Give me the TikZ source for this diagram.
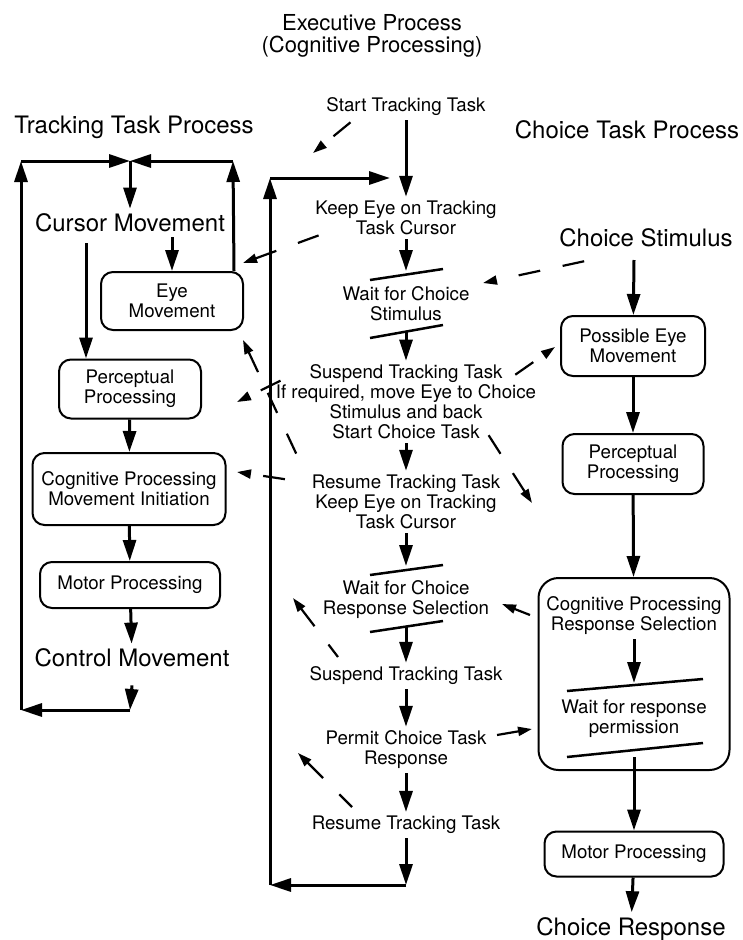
\documentclass[tikz,border=0pt]{standalone}
\usepackage{fontspec}
\setmainfont{TeX Gyre Heros}
\usetikzlibrary{arrows.meta}

\begin{document}
\begin{tikzpicture}[x=1pt,y=-1pt,
  lbl/.style={align=center,inner sep=4pt,font=\fontsize{18.7}{20}\selectfont},
  head/.style={inner sep=5pt,font=\fontsize{24}{26}\selectfont},
  box/.style={lbl,draw,line width=2pt,rounded corners=12pt,inner sep=0pt},
  arr/.style={line width=3pt,-{Triangle[length=21pt,width=13pt]}},
  dsh/.style={line width=2.2pt,dash pattern=on 22pt off 23pt,{Triangle[length=14pt,width=9pt]}-},
  gapfirst/.style={dash phase=32pt},
  bar/.style={line width=2.5pt}]
\useasboundingbox (0,0) rectangle (743,940);

% headings
\node[head,align=center,font=\fontsize{22}{22}\selectfont] (exec) at (372,36) {Executive Process\\(Cognitive Processing)};
\node[head] (ttp) at (134,127) {Tracking Task Process};
\node[head] (ctp) at (627,130) {Choice Task Process};

% tracking task
\node[head] (cm) at (130,223) {Cursor Movement};
\node[box,minimum width=142pt,minimum height=58pt] (eye) at (172,301) {Eye\\Movement};
\node[box,minimum width=142pt,minimum height=59pt] (pp1) at (130,389) {Perceptual\\Processing};
\node[box,minimum width=193pt,minimum height=72pt] (cpmi) at (129,489) {Cognitive Processing\\Movement Initiation};
\node[box,minimum width=180pt,minimum height=46pt] (mp1) at (130,585) {Motor Processing};
\node[head] (ctl) at (132,658) {Control Movement};

% executive process
\node[lbl] (stt) at (406,107) {Start Tracking Task};
\node[lbl] (ke1) at (406,218) {Keep Eye on Tracking\\Task Cursor};
\node[lbl] (wcs) at (406,304) {Wait for Choice\\Stimulus};
\node[lbl] (sus) at (406,402) {Suspend Tracking Task\\If required, move Eye to Choice\\Stimulus and back\\Start Choice Task};
\node[lbl] (res) at (406,502) {Resume Tracking Task\\Keep Eye on Tracking\\Task Cursor};
\node[lbl] (wcr) at (406,600) {Wait for Choice\\Response Selection};
\node[lbl] (sus2) at (406,676) {Suspend Tracking Task};
\node[lbl] (pct) at (406,750) {Permit Choice Task\\Response};
\node[lbl] (res2) at (406,825) {Resume Tracking Task};

% choice task
\node[head] (cs) at (646,238) {Choice Stimulus};
\node[box,minimum width=144pt,minimum height=60pt] (pem) at (633,346) {Possible Eye\\Movement};
\node[box,minimum width=141pt,minimum height=60pt] (pp2) at (633,464) {Perceptual\\Processing};
\node[draw,line width=2pt,rounded corners=20pt,minimum width=191pt,minimum height=192pt] (big) at (634,674) {};
\node[lbl] (crs) at (634,616) {Cognitive Processing\\Response Selection};
\node[lbl] (wrp) at (634,719) {Wait for response\\permission};
\node[box,minimum width=179pt,minimum height=45pt] (mp2) at (634,854) {Motor Processing};
\node[head] (cr) at (631,929) {Choice Response};

% loop corners and bar points
\coordinate (tm) at (130,161);
\coordinate (tl) at (21,161);
\coordinate (tr) at (233,161);
\coordinate (bl) at (21,710);
\coordinate (bm) at (130,710);
\coordinate (mt) at (270,178);
\coordinate (mr) at (390,178);
\coordinate (ml) at (270,885);
\coordinate (mb) at (406,885);
\coordinate (wcs1) at (406,271);
\coordinate (wcs2) at (406,332);
\coordinate (wcr1) at (406,566);
\coordinate (wcr2) at (406,627);
\coordinate (cs1) at (634,260);
\coordinate (wrp1) at (634,683);
\coordinate (wrp2) at (634,757);

% tracking loop
\draw[arr] (bl) -- (tl);
\draw[arr] (tl) -- (tm);
\draw[arr] ([xshift=-10pt]eye.north east) -- (tr);
\draw[arr] (tr) -- (tm);
\draw[arr] (tm) -- (cm);
\draw[arr] (cm.south -| eye.north) -- (eye);
\draw[arr] ([xshift=-44pt,yshift=-6pt]cm.south) -- ([xshift=-44pt]pp1.north);
\draw[arr] (pp1) -- (cpmi);
\draw[arr] (cpmi) -- (mp1);
\draw[arr] (mp1) -- (ctl);
\draw[arr] ([yshift=-13pt]ctl.south) -- (bm);
\draw[arr] (bm) -- (bl);

% executive chain
\draw[arr] (stt) -- (ke1);
\draw[arr] (ke1) -- (wcs1);
\draw[bar] (370,280) -- (443,269);
\draw[bar] (370,338) -- (443,325);
\draw[arr] (wcs2) -- (sus);
\draw[arr] (sus) -- (res);
\draw[arr] (res) -- (wcr1);
\draw[bar] (370,575) -- (443,565);
\draw[bar] (370,632) -- (443,621);
\draw[arr] (wcr2) -- (sus2);
\draw[arr] (sus2) -- (pct);
\draw[arr] (pct) -- (res2);
\draw[arr] (res2) -- (mb);
\draw[arr] (mb) -- (ml);
\draw[arr] (ml) -- (mt);
\draw[arr] (mt) -- (mr);

% choice chain
\draw[arr] (cs1) -- (pem);
\draw[arr] (pem) -- (pp2);
\draw[arr] (pp2) -- (big);
\draw[arr] (crs) -- (wrp1);
\draw[bar] (567,691) -- (703,679);
\draw[bar] (567,757) -- (703,743);
\draw[arr] (wrp2) -- (mp2);
\draw[arr] (mp2) -- (cr);

% dashed signals (drawn from the tip back)
\coordinate (t1) at (313,153);  \coordinate (s1) at (357,117);
\coordinate (t2) at (243,263);  \coordinate (s2) at (328,232);
\coordinate (t3) at (483,283);  \coordinate (s3) at (590,260);
\coordinate (t4) at (555,347);  \coordinate (s4) at (512,377);
\coordinate (t5) at (237,402);  \coordinate (s5) at (288,377);
\coordinate (t6) at (237,472);  \coordinate (s6) at (297,481);
\coordinate (t7) at (243,340);  \coordinate (s7) at (302,466);
\coordinate (t8) at (532,503);  \coordinate (s8) at (484,428);
\coordinate (t9) at (502,604);  \coordinate (s9) at (530,615);
\coordinate (t10) at (293,598); \coordinate (s10) at (338,657);
\coordinate (t11) at (532,729); \coordinate (s11) at (497,735);
\coordinate (t12) at (298,753); \coordinate (s12) at (352,807);
\draw[dsh,gapfirst] (t1) -- (s1);
\draw[dsh] (t2) -- (s2);
\draw[dsh,dash phase=22pt] (t3) -- (s3);
\draw[dsh,gapfirst] (t4) -- (s4);
\draw[dsh,gapfirst] (t5) -- (s5);
\draw[dsh,gapfirst] (t6) -- (s6);
\draw[dsh] (t7) -- (s7);
\draw[dsh] (t8) -- (s8);
\draw[dsh] (t9) -- (s9);
\draw[dsh] (t10) -- (s10);
\draw[dsh] (t11) -- (s11);
\draw[dsh] (t12) -- (s12);
\end{tikzpicture}
\end{document}
